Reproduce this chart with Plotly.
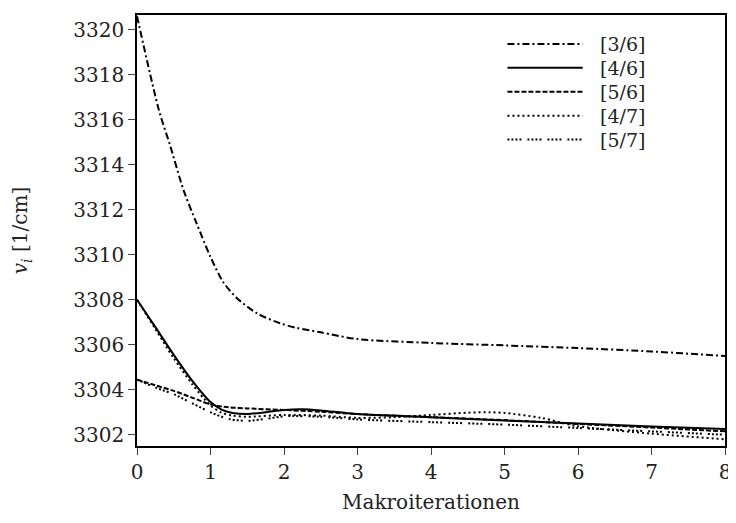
import plotly.graph_objects as go

x_36 = [0, 0.3, 0.45, 0.63, 0.81, 1.0, 1.17, 1.35, 1.63, 1.95, 2.17, 2.5, 3, 4, 5, 6, 7, 8]
y_36 = [3320.6, 3316.4, 3314.86, 3312.9, 3311.4, 3309.9, 3308.8, 3308.1, 3307.4, 3306.95, 3306.75,
        3306.55, 3306.25, 3306.08, 3305.97, 3305.85, 3305.7, 3305.5]

x_46 = [0, 0.25, 0.5, 0.75, 0.9, 1, 1.15, 1.3, 1.5, 1.75, 2, 2.25, 2.5, 3, 4, 5, 6, 7, 8]
y_46 = [3308.0, 3306.78, 3305.55, 3304.4, 3303.8, 3303.45, 3303.12, 3302.97, 3302.92, 3303.0, 3303.1, 3303.13,
        3303.08, 3302.92, 3302.78, 3302.63, 3302.5, 3302.37, 3302.25]

x_56 = [0, 0.25, 0.5, 0.75, 1, 1.25, 1.5, 2, 2.5, 3, 4, 5, 6, 7, 8]
y_56 = [3304.45, 3304.2, 3303.95, 3303.65, 3303.35, 3303.22, 3303.17, 3303.1, 3303.02, 3302.92,
        3302.78, 3302.65, 3302.48, 3302.32, 3302.15]

x_47 = [0, 0.25, 0.5, 0.75, 0.9, 1, 1.15, 1.3, 1.5, 2, 2.5, 3, 3.5, 4, 4.5, 4.8, 5, 5.5, 6, 7, 8]
y_47 = [3308.0, 3306.7, 3305.4, 3304.25, 3303.65, 3303.3, 3302.98, 3302.85, 3302.8, 3302.88, 3302.85, 3302.75,
        3302.78, 3302.88, 3302.98, 3303.0, 3302.97, 3302.75, 3302.38, 3302.05, 3301.8]

x_57 = [0, 0.25, 0.5, 0.75, 1, 1.25, 1.5, 1.75, 2, 2.5, 3, 4, 5, 6, 7, 8]
y_57 = [3304.45, 3304.1, 3303.8, 3303.4, 3303.0, 3302.7, 3302.62, 3302.7, 3302.82, 3302.8,
        3302.68, 3302.56, 3302.45, 3302.3, 3302.15, 3302.0]

names = ["[3/6]", "[4/6]", "[5/6]", "[4/7]", "[5/7]"]
y_ticks = [3302, 3304, 3306, 3308, 3310, 3312, 3314, 3316, 3318, 3320]
x_ticks = [0, 1, 2, 3, 4, 5, 6, 7, 8]

series = [(x_36, y_36), (x_46, y_46), (x_56, y_56), (x_47, y_47), (x_57, y_57)]
dashes = ["7px,3px,2px,3px", "solid", "5px,2px", "2px,3px", "2px,2px,2px,2px,2px,2px,2px,6px"]

FONT = "DejaVu Serif"
INK = "#222"
FS = 20

fig = go.Figure()
for (xs, ys), nm, d in zip(series, names, dashes):
    fig.add_trace(go.Scatter(x=xs, y=ys, name=nm, mode="lines", showlegend=False,
                             line=dict(color="black", width=2, dash=d, shape="spline", smoothing=0.8)))

# legend drawn as paper-anchored samples and labels
leg_top = 0.933
leg_step = 0.0555
for i, (nm, d) in enumerate(zip(names, dashes)):
    yy = leg_top - i * leg_step
    fig.add_shape(type="line", xref="paper", yref="paper", x0=0.63, x1=0.758, y0=yy, y1=yy,
                  line=dict(color="black", width=2, dash=d))
    fig.add_annotation(xref="paper", yref="paper", x=0.785, y=yy, text=nm, showarrow=False,
                       xanchor="left", yanchor="middle", borderpad=0,
                       font=dict(family=FONT, size=19, color=INK))

fig.update_layout(
    width=728, height=515,
    margin=dict(l=129, r=11, t=5, b=77),
    paper_bgcolor="white", plot_bgcolor="white",
    font=dict(family=FONT, size=FS, color=INK),
    showlegend=False,
    xaxis=dict(range=[0, 8], tickvals=x_ticks, ticks="outside", ticklen=7, tickwidth=1,
               tickcolor="#444", showline=True, linecolor="black", linewidth=1.5, mirror=True,
               showgrid=False, zeroline=False,
               title=dict(text="Makroiterationen", font=dict(family=FONT, size=FS, color=INK), standoff=12),
               tickfont=dict(family=FONT, size=FS, color=INK)),
    yaxis=dict(range=[3301.5, 3320.65], tickvals=y_ticks, ticks="outside", ticklen=7, tickwidth=1,
               tickcolor="#444", showline=True, linecolor="black", linewidth=1.5, mirror=True,
               showgrid=False, zeroline=False,
               title=dict(text="<i>v<sub>i</sub></i> [1/cm]", font=dict(family=FONT, size=FS, color=INK), standoff=40),
               tickfont=dict(family=FONT, size=FS, color=INK)),
)

fig.write_html("out.html")
